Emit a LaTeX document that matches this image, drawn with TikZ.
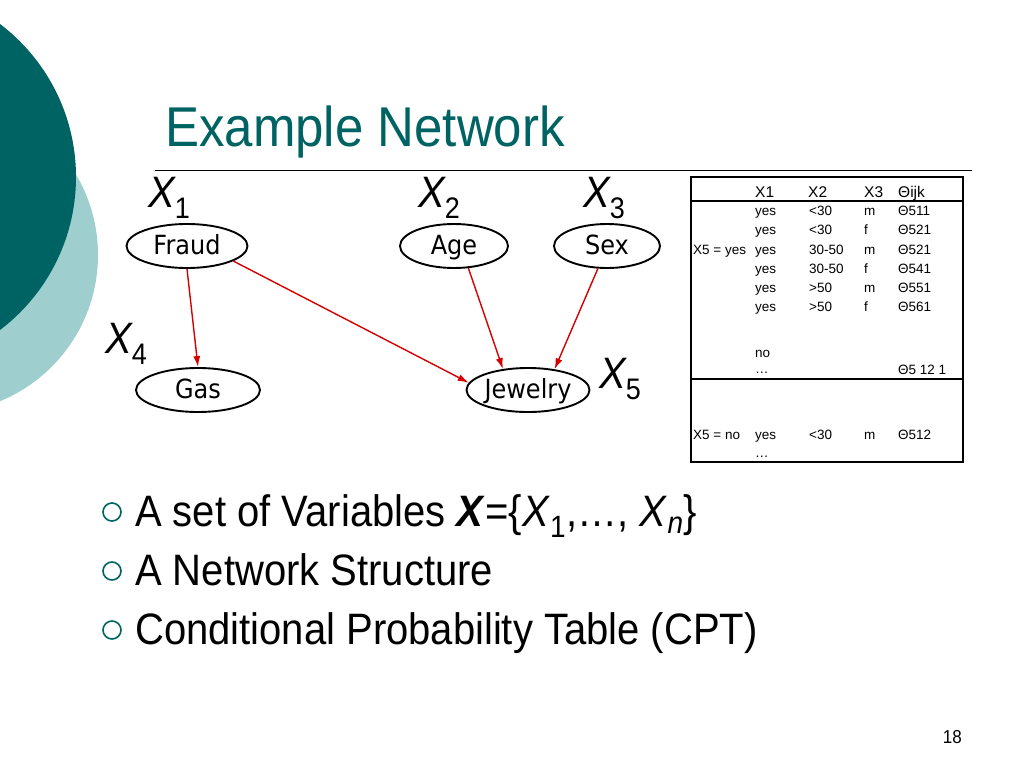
\documentclass[tikz,border=0pt]{standalone}
\usepackage{fontspec}
\setmainfont{Liberation Sans}
\newfontfamily\verdfont{DejaVu Sans}
\usetikzlibrary{shapes.geometric,arrows.meta}
\definecolor{slideteal}{RGB}{0,99,99}
\definecolor{paleteal}{RGB}{158,206,206}
\definecolor{arrowred}{RGB}{214,0,0}
\newcommand{\tallt}[1]{\scalebox{1}[1.1]{#1}}
\newcommand{\xlab}[1]{\tallt{\fontsize{40}{40}\selectfont\itshape X\raisebox{-10pt}{\upshape\fontsize{27}{27}\selectfont #1}}}
\newcommand{\elab}[1]{\raisebox{0pt}[20pt][4pt]{\tallt{#1}}}
\begin{document}
\begin{tikzpicture}[x=1pt,y=-1pt,
  var/.style={ellipse, draw, line width=1.9pt, inner sep=0pt, minimum height=44pt, font=\verdfont\fontsize{24}{24}\selectfont},
  dep/.style={-{Latex[length=11pt,width=7pt]}, arrowred, line width=1.4pt},
  cell/.style={anchor=base west, inner sep=0pt, font=\fontsize{13.5}{14}\selectfont},
  headcell/.style={cell, font=\fontsize{15.5}{16}\selectfont},
  bullet/.style={circle, draw=slideteal, line width=1.6pt, inner sep=0pt, minimum size=18pt},
  item/.style={anchor=base west, inner sep=0pt, font=\fontsize{40}{44}\selectfont},
  varlab/.style={anchor=base west, inner sep=0pt}]
\useasboundingbox (0,0) rectangle (1024,768);
% background circles
\begin{scope}
\clip (0,0) rectangle (1024,768);
\fill[paleteal] (-60,255) circle (158);
\fill[slideteal] (-116,177) circle (192);
\end{scope}
% title
\node[anchor=base west, inner sep=0pt, text=slideteal, font=\fontsize{51}{56}\selectfont] (title) at (165,146) {\tallt{Example Network}};
\draw[line width=0.8pt] (155,170) -- (972,170);
% network
\node[var, minimum width=121pt] (fraud) at (187,246) {\elab{Fraud}};
\node[var, minimum width=108pt] (age) at (454,246) {\elab{Age}};
\node[var, minimum width=106pt] (sex) at (607,246) {\elab{Sex}};
\node[var, minimum width=124pt] (gas) at (198,390) {\elab{Gas}};
\node[var, minimum width=120pt] (jewelry) at (528,390) {\elab{Jewelry}};
\node[varlab] (x1) at (148,207) {\xlab{1}};
\node[varlab] (x2) at (418,207) {\xlab{2}};
\node[varlab] (x3) at (583,207) {\xlab{3}};
\node[varlab] (x4) at (105,353) {\xlab{4}};
\node[varlab] (x5) at (599,388) {\xlab{5}};
\draw[dep] (fraud.south) -- (gas.north);
\draw[dep] (fraud.-18) -- (jewelry.173);
\draw[dep] (age.-57) -- (jewelry.140);
\draw[dep] (sex.-112) -- (jewelry.38);
% CPT
\draw[line width=1.2pt] (691,177) rectangle (963,462);
\draw[line width=1.1pt] (691,201) -- (963,201);
\draw[line width=1.1pt] (691,379) -- (963,379);
\node[headcell] (h1) at (755,197) {X1};
\node[headcell] (h2) at (808,197) {X2};
\node[headcell] (h3) at (864,197) {X3};
\node[headcell] (h4) at (898,197) {Θijk};
\node[cell] (ya) at (693,254) {X5 = yes};
\node[cell] (a1) at (755,215) {yes};
\node[cell] (a2) at (809,215) {<30};
\node[cell] (a3) at (864,215) {m};
\node[cell] (a4) at (898,215) {Θ511};
\node[cell] (b1) at (755,234) {yes};
\node[cell] (b2) at (809,234) {<30};
\node[cell] (b3) at (864,234) {f};
\node[cell] (b4) at (898,234) {Θ521};
\node[cell] (c1) at (755,254) {yes};
\node[cell] (c2) at (809,254) {30-50};
\node[cell] (c3) at (864,254) {m};
\node[cell] (c4) at (898,254) {Θ521};
\node[cell] (d1) at (755,273) {yes};
\node[cell] (d2) at (809,273) {30-50};
\node[cell] (d3) at (864,273) {f};
\node[cell] (d4) at (898,273) {Θ541};
\node[cell] (e1) at (755,292) {yes};
\node[cell] (e2) at (809,292) {>50};
\node[cell] (e3) at (864,292) {m};
\node[cell] (e4) at (898,292) {Θ551};
\node[cell] (f1) at (755,311) {yes};
\node[cell] (f2) at (809,311) {>50};
\node[cell] (f3) at (864,311) {f};
\node[cell] (f4) at (898,311) {Θ561};
\node[cell] (g1) at (755,357) {no};
\node[cell] (g2) at (755,373) {…};
\node[cell] (g4) at (898,374) {Θ5 12 1};
\node[cell] (na) at (693,439) {X5 = no};
\node[cell] (n1) at (755,439) {yes};
\node[cell] (n2) at (809,439) {<30};
\node[cell] (n3) at (864,439) {m};
\node[cell] (n4) at (898,439) {Θ512};
\node[cell] (m1) at (755,457) {…};
% bullets
\node[bullet] (bul1) at (112,512) {};
\node[bullet] (bul2) at (112,571) {};
\node[bullet] (bul3) at (112,630) {};
\node[item] (item1) at (135,526) {\tallt{A set of Variables \textbf{\textit{X}}=\{\textit{X}\textsubscript{1},…, \textit{X}\textsubscript{\textit{n}}\}}};
\node[item] (item2) at (135,585) {\tallt{A Network Structure}};
\node[item] (item3) at (135,644) {\tallt{Conditional Probability Table (CPT)}};
\node[anchor=base east, inner sep=0pt, font=\fontsize{17}{17}\selectfont] (pagenum) at (962,743) {\tallt{18}};
\end{tikzpicture}
\end{document}
